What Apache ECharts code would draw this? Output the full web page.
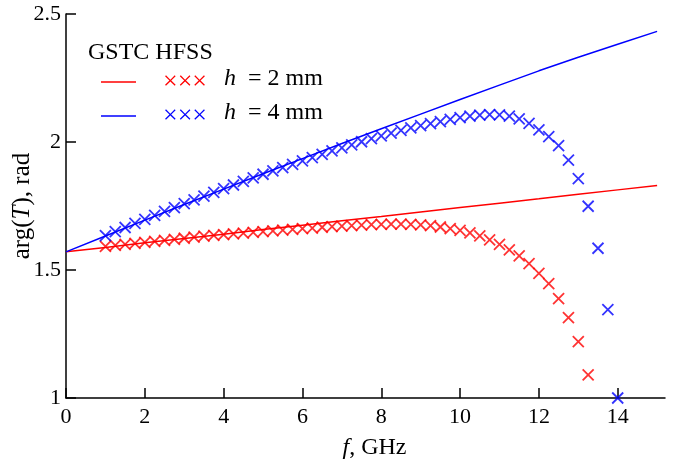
<!DOCTYPE html>
<html>
<head>
<meta charset="utf-8">
<script src="https://cdn.jsdelivr.net/npm/echarts@6/dist/echarts.min.js"></script>
<style>
html,body{margin:0;padding:0;background:#fff;}
#c{width:689px;height:466px;}
</style>
</head>
<body>
<div id="c"></div>
<script>
// GSTC (analytic) lines, f in GHz
const gstcF = [0,1,2,3,4,5,6,7,8,9,10,11,12,13,14,15];
const gstcH2 = [1.571,1.588,1.606,1.623,1.640,1.658,1.675,1.692,1.709,1.727,1.744,1.761,1.778,1.796,1.813,1.830];
const gstcH4 = [1.571,1.633,1.695,1.756,1.816,1.876,1.935,1.994,2.052,2.109,2.166,2.222,2.278,2.331,2.382,2.432];

// HFSS points, f in GHz
const hfssF2 = [1.00,1.25,1.50,1.75,2.00,2.25,2.50,2.75,3.00,3.25,3.50,3.75,4.00,4.25,4.50,4.75,5.00,5.25,5.50,5.75,6.00,6.25,6.50,6.75,7.00,7.25,7.50,7.75,8.00,8.25,8.50,8.75,9.00,9.25,9.50,9.75,10.00,10.25,10.50,10.75,11.00,11.25,11.50,11.75,12.00,12.25,12.50,12.75,13.00,13.25];
const hfssH2 = [1.592,1.596,1.600,1.604,1.608,1.612,1.616,1.620,1.624,1.628,1.632,1.635,1.638,1.641,1.644,1.647,1.650,1.653,1.656,1.659,1.662,1.664,1.667,1.669,1.671,1.673,1.675,1.677,1.678,1.679,1.679,1.678,1.676,1.673,1.668,1.662,1.655,1.645,1.633,1.618,1.600,1.579,1.555,1.525,1.487,1.447,1.388,1.314,1.220,1.090];
const hfssF4 = [1.00,1.25,1.50,1.75,2.00,2.25,2.50,2.75,3.00,3.25,3.50,3.75,4.00,4.25,4.50,4.75,5.00,5.25,5.50,5.75,6.00,6.25,6.50,6.75,7.00,7.25,7.50,7.75,8.00,8.25,8.50,8.75,9.00,9.25,9.50,9.75,10.00,10.25,10.50,10.75,11.00,11.25,11.50,11.75,12.00,12.25,12.50,12.75,13.00,13.25,13.50,13.75,14.00];
const hfssH4 = [1.634,1.650,1.666,1.682,1.698,1.713,1.729,1.744,1.759,1.774,1.789,1.803,1.818,1.832,1.846,1.860,1.874,1.887,1.900,1.913,1.926,1.939,1.952,1.965,1.977,1.989,2.001,2.013,2.024,2.035,2.045,2.055,2.064,2.072,2.080,2.088,2.095,2.101,2.105,2.107,2.106,2.101,2.090,2.073,2.047,2.021,1.986,1.929,1.857,1.749,1.585,1.345,1.000];

const xTicks = [0,2,4,6,8,10,12,14];

const FONT = '"Liberation Serif","Times New Roman",serif';
const RED = '#ff0000', BLUE = '#0000ff';
const CROSS = 'path://M0,0L10,10M10,0L0,10';

const zip = (a,b) => a.map((v,i)=>[v,b[i]]);

const chart = echarts.init(document.getElementById('c'), null, {renderer:'canvas'});
chart.setOption({
  animation:false,
  backgroundColor:'#fff',
  grid:{left:66,right:24,top:14,bottom:68,containLabel:false,outerBoundsMode:'none'},
  xAxis:{
    type:'value',min:0,max:15.2,
    name:'{i|f}, GHz',nameLocation:'middle',nameGap:38,nameMoveOverlap:false,
    nameTextStyle:{fontFamily:FONT,fontSize:24,color:'#000',padding:[0,0,0,18],
      rich:{i:{fontStyle:'italic',fontFamily:FONT,fontSize:24,color:'#000'}}},
    axisLine:{show:true,lineStyle:{color:'#000',width:1.5}},
    axisTick:{show:true,inside:true,length:10,lineStyle:{color:'#000',width:1.5},customValues:xTicks},
    axisLabel:{fontFamily:FONT,fontSize:22,color:'#000',margin:8,customValues:xTicks},
    splitLine:{show:false}
  },
  yAxis:{
    type:'value',min:1,max:2.5,interval:0.5,
    name:'arg({i|T}), rad',nameLocation:'middle',nameGap:31,nameMoveOverlap:false,
    nameTextStyle:{fontFamily:FONT,fontSize:25,color:'#000',
      rich:{i:{fontStyle:'italic',fontFamily:FONT,fontSize:25,color:'#000'}}},
    axisLine:{show:true,lineStyle:{color:'#000',width:1.5}},
    axisTick:{show:true,inside:true,length:10,lineStyle:{color:'#000',width:1.5}},
    axisLabel:{fontFamily:FONT,fontSize:22,color:'#000',margin:5},
    splitLine:{show:false}
  },
  series:[
    {type:'line',data:zip(gstcF,gstcH2),showSymbol:false,symbol:'none',lineStyle:{color:RED,width:1.5},z:2},
    {type:'line',data:zip(gstcF,gstcH4),showSymbol:false,symbol:'none',lineStyle:{color:BLUE,width:1.5},z:2},
    {type:'scatter',data:zip(hfssF2,hfssH2),symbol:CROSS,symbolSize:11,
      itemStyle:{color:'none',borderColor:RED,borderWidth:1.8},z:3},
    {type:'scatter',data:zip(hfssF4,hfssH4),symbol:CROSS,symbolSize:11,
      itemStyle:{color:'none',borderColor:BLUE,borderWidth:1.8},z:3}
  ],
  graphic:[
    {type:'text',left:88,top:41,style:{text:'GSTC HFSS',font:'24px '+FONT,fill:'#000'}},
    {type:'line',shape:{x1:101,y1:82,x2:136,y2:82},style:{stroke:RED,lineWidth:1.5}},
    {type:'text',left:163,top:69,style:{text:'×××',font:'26px '+FONT,fill:RED}},
    {type:'text',left:224,top:67,style:{text:'{i|h}  = 2 mm',font:'24px '+FONT,fill:'#000',
      rich:{i:{fontStyle:'italic',fontFamily:FONT,fontSize:24,fill:'#000'}}}},
    {type:'line',shape:{x1:101,y1:116,x2:136,y2:116},style:{stroke:BLUE,lineWidth:1.5}},
    {type:'text',left:163,top:103,style:{text:'×××',font:'26px '+FONT,fill:BLUE}},
    {type:'text',left:224,top:101,style:{text:'{i|h}  = 4 mm',font:'24px '+FONT,fill:'#000',
      rich:{i:{fontStyle:'italic',fontFamily:FONT,fontSize:24,fill:'#000'}}}}
  ]
});
</script>
</body>
</html>
